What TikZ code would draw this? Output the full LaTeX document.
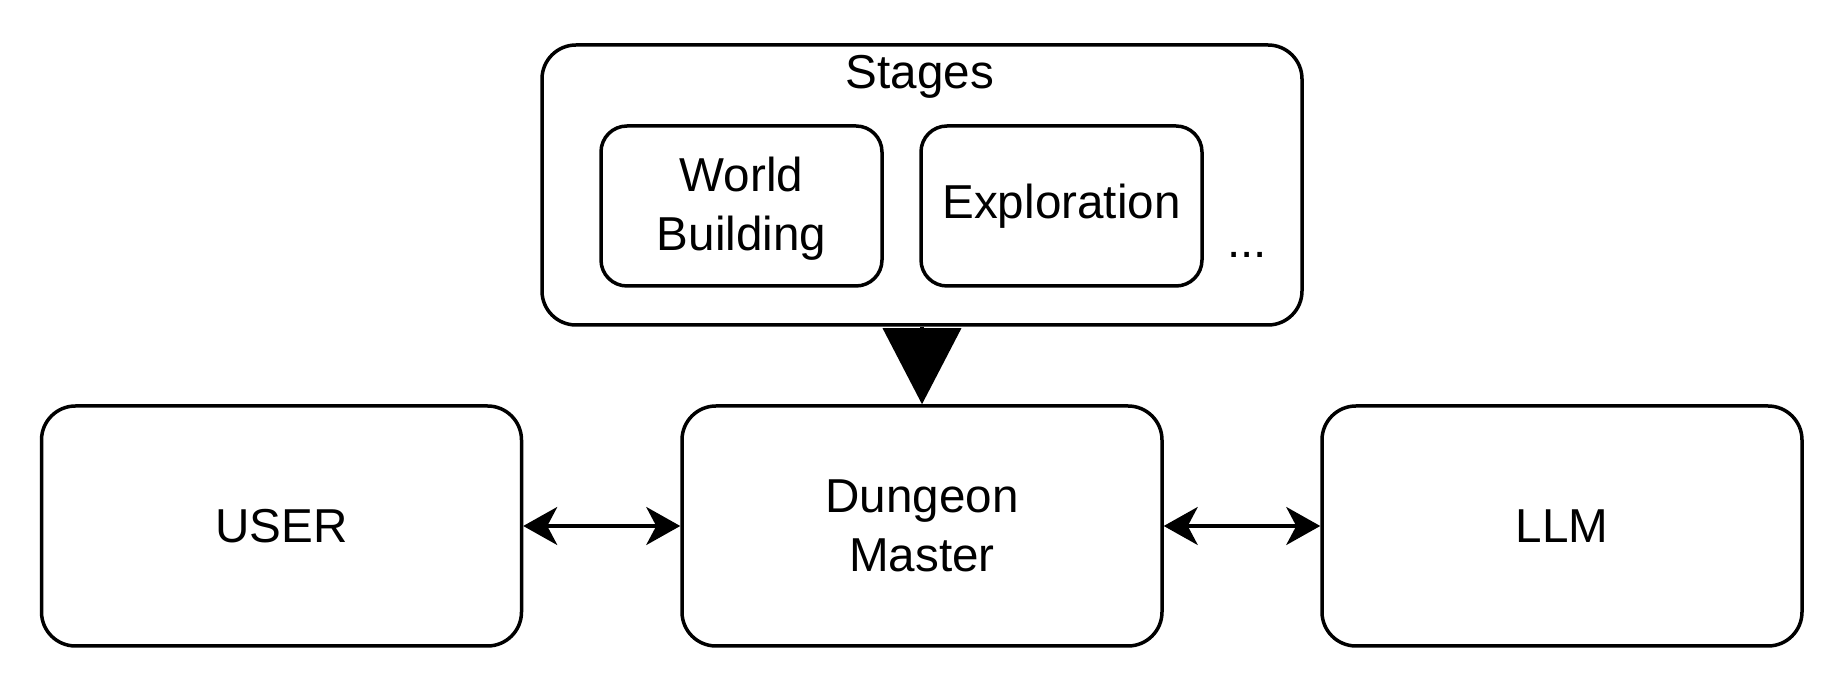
\documentclass[tikz,border=0pt]{standalone}
\usepackage{fontspec}
\setmainfont{Liberation Sans}
\usetikzlibrary{arrows.meta, positioning}

\begin{document}
\begin{tikzpicture}[
            x=0.5pt, y=-0.5pt,
            every node/.style={font=\fontsize{23.8}{29.5}\selectfont, align=center, inner sep=0pt},
            box/.style={draw, rounded corners=17pt, line width=1.75pt, minimum width=240pt, minimum height=120pt},
            stagebox/.style={draw, rounded corners=13pt, line width=1.75pt, minimum width=140.5pt, minimum height=80pt},
            >={Stealth[length=17pt, width=19pt, inset=5pt]}
        ]
            \useasboundingbox (0, 0) rectangle (1844, 688);
            \node[box] (dm) at (922, 526) {Dungeon\\Master};
            \node[box] (user) at (281.5, 526) {USER};
            \node[box] (llm) at (1562, 526) {LLM};
            \node[draw, rounded corners=17pt, line width=1.75pt, minimum width=380pt, minimum height=140pt] (stages) at (922, 185) {};
            \node[anchor=base] (title) at (920, 89) {Stages};
            \node[stagebox] (world) at (741.5, 206) {\raisebox{-1.75pt}[\height][\depth]{\begin{tabular}{@{}c@{}}World\\Building\end{tabular}}};
            \node[stagebox] (explore) at (1061.5, 206) {Exploration};
            \node[anchor=base] (more) at (1247, 258) {...};
            \path[<->, draw, line width=1.75pt]
            (user) edge (dm)
            (dm) edge (llm)
            ;
            \draw[line width=1.75pt, -{Triangle[length=38pt, width=39pt]}] (stages) -- (dm);
        \end{tikzpicture}
\end{document}
